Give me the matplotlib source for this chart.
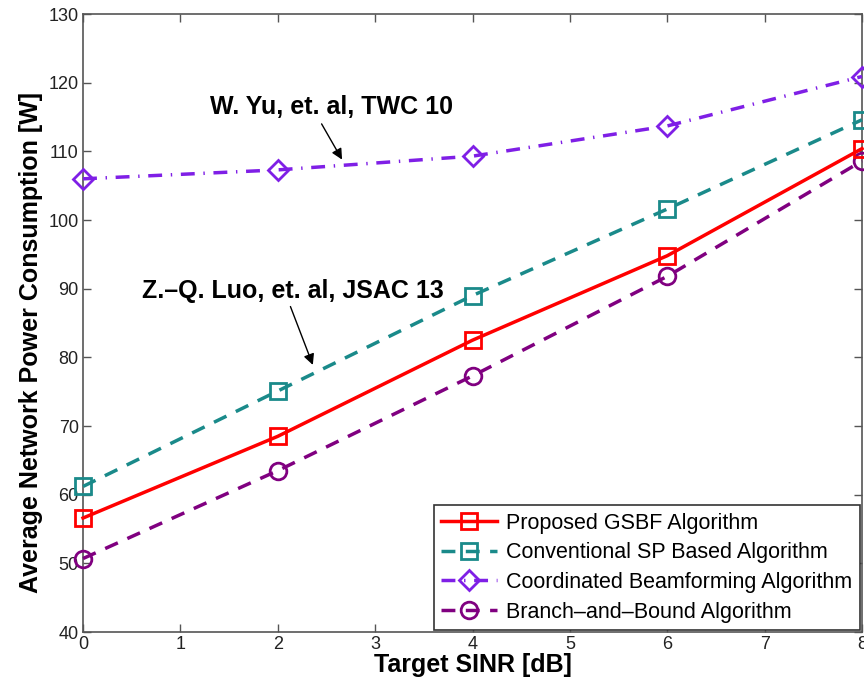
import matplotlib
matplotlib.use("Agg")
import matplotlib.pyplot as plt

plt.rcParams['font.family'] = ['Liberation Sans', 'DejaVu Sans']

sinr = [0, 2, 4, 6, 8]
proposed = [56.6, 68.5, 82.5, 94.8, 110.4]
conventional = [61.2, 75.1, 89.0, 101.6, 114.6]
coordinated = [106.0, 107.3, 109.3, 113.7, 120.9]
branch_bound = [50.7, 63.5, 77.3, 91.8, 108.6]

labels = ["Proposed GSBF Algorithm",
          "Conventional SP Based Algorithm",
          "Coordinated Beamforming Algorithm",
          "Branch\u2013and\u2013Bound Algorithm"]

xticks = [0, 1, 2, 3, 4, 5, 6, 7, 8]
yticks = [40, 50, 60, 70, 80, 90, 100, 110, 120, 130]

fig = plt.figure(figsize=(8.64, 6.84), dpi=100)
ax = fig.add_axes([0.0961, 0.076, 0.9016, 0.9035])

lw = 2.5
ax.plot(sinr, proposed, color='#ff0000', lw=lw, ls='-', marker='s', ms=11,
        mfc='none', mew=2, label=labels[0], clip_on=False, zorder=4)
ax.plot(sinr, conventional, color='#1a8a8a', lw=lw, dashes=(4, 3), marker='s', ms=11,
        mfc='none', mew=2, label=labels[1], clip_on=False, zorder=3)
ax.plot(sinr, coordinated, color='#7f1fe6', lw=lw, dashes=(4, 2.5, 0.4, 2.5), marker='D', ms=10,
        mfc='none', mew=2, label=labels[2], clip_on=False, zorder=3)
ax.plot(sinr, branch_bound, color='#800080', lw=lw, dashes=(4, 3), marker='o', ms=12,
        mfc='none', mew=2, label=labels[3], clip_on=False, zorder=3)

ax.set_xlim(0, 8)
ax.set_ylim(40, 130)
ax.set_xticks(xticks)
ax.set_yticks(yticks)
ax.tick_params(direction='in', length=6, width=1, top=True, right=True,
               labelsize=13, colors='#555555', labelcolor='#222222', pad=3)
for s in ax.spines.values():
    s.set_color('#555555')
    s.set_linewidth(1.2)

ax.set_xlabel("Target SINR [dB]", fontsize=18, fontweight='bold', labelpad=0)
ax.set_ylabel("Average Network Power Consumption [W]", fontsize=18, fontweight='bold')
ax.yaxis.set_label_coords(-0.052, 0.468)

ax.text(2.55, 116.4, "W. Yu, et. al, TWC 10", fontsize=18, fontweight='bold',
        ha='center', va='center')
ax.annotate('', xy=(2.66, 108.8), xytext=(2.45, 114.0),
            arrowprops=dict(arrowstyle='-|>', color='black', lw=1, mutation_scale=16,
                            shrinkA=0, shrinkB=0))
ax.text(2.16, 89.6, "Z.\u2013Q. Luo, et. al, JSAC 13", fontsize=18, fontweight='bold',
        ha='center', va='center')
ax.annotate('', xy=(2.36, 78.9), xytext=(2.13, 87.4),
            arrowprops=dict(arrowstyle='-|>', color='black', lw=1, mutation_scale=16,
                            shrinkA=0, shrinkB=0))

leg = ax.legend(loc='lower right', bbox_to_anchor=(0.997, 0.003), borderaxespad=0,
                fontsize=15.5, handlelength=2.6, numpoints=1, fancybox=False,
                framealpha=1, edgecolor='#333333', labelspacing=0.4,
                handletextpad=0.4, borderpad=0.35)
leg.get_frame().set_linewidth(1.2)

fig.savefig("out.png", dpi=100)
